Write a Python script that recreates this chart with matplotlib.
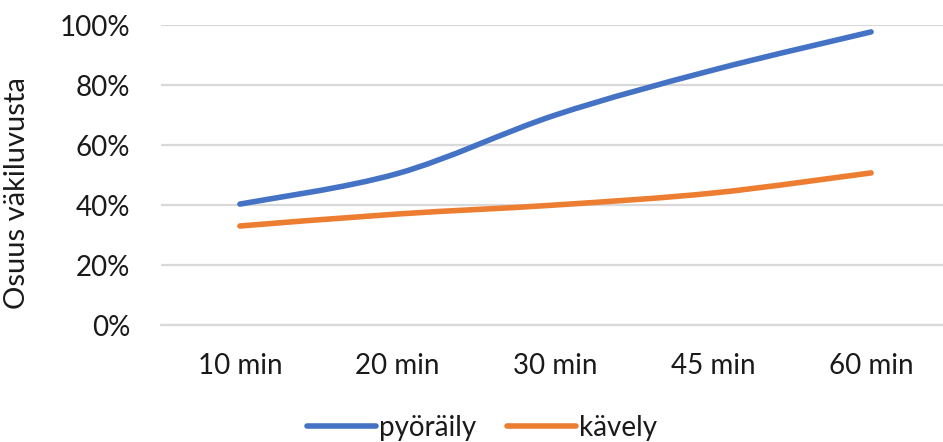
import matplotlib.pyplot as plt
import numpy as np
from matplotlib.path import Path
from matplotlib.patches import PathPatch
from matplotlib.lines import Line2D

plt.rcParams['font.family'] = ['Lato', 'DejaVu Sans']

# data
categories = ['10 min', '20 min', '30 min', '45 min', '60 min']
pyoraily = [0.403, 0.505, 0.70, 0.85, 0.977]
kavely = [0.33, 0.37, 0.40, 0.44, 0.507]
series_names = ['pyöräily', 'kävely']
colors = ['#4472C4', '#ED7D31']


def smooth_path(xs, ys, t=1 / 6):
    # excel-like smoothed line, bezier segments through the points
    xs = np.asarray(xs, float)
    ys = np.asarray(ys, float)
    n = len(xs)
    verts = [(xs[0], ys[0])]
    codes = [Path.MOVETO]
    for i in range(n - 1):
        p0 = (xs[max(i - 1, 0)], ys[max(i - 1, 0)])
        p1 = (xs[i], ys[i])
        p2 = (xs[i + 1], ys[i + 1])
        p3 = (xs[min(i + 2, n - 1)], ys[min(i + 2, n - 1)])
        c1 = (p1[0] + (p2[0] - p0[0]) * t, p1[1] + (p2[1] - p0[1]) * t)
        c2 = (p2[0] - (p3[0] - p1[0]) * t, p2[1] - (p3[1] - p1[1]) * t)
        verts += [c1, c2, p2]
        codes += [Path.CURVE4] * 3
    return Path(verts, codes)


fig = plt.figure(figsize=(9.43, 4.42), dpi=100)
ax = fig.add_axes([161 / 943, 117 / 442, 789 / 943, 300 / 442])

x = np.arange(len(categories))
for vals, c in zip([pyoraily, kavely], colors):
    ax.add_patch(PathPatch(smooth_path(x, vals), facecolor='none', edgecolor=c,
                           lw=4.0, capstyle='round', joinstyle='round', zorder=3))

fs = 20
ax.set_xlim(-0.5, len(categories) - 0.5)
ax.set_ylim(0, 1.0)
ax.set_yticks(np.arange(0, 1.01, 0.2))
ax.set_yticklabels([f'{int(round(v * 100))}%' for v in np.arange(0, 1.01, 0.2)])
ax.set_xticks(x)
ax.set_xticklabels(categories)
ax.tick_params(axis='both', length=0, labelsize=fs, colors='#1a1a1a')
ax.tick_params(axis='y', pad=22)
ax.tick_params(axis='x', pad=20)
ax.grid(axis='y', color='#d9d9d9', lw=1.6)
ax.set_axisbelow(True)
for s in ['top', 'right', 'left']:
    ax.spines[s].set_visible(False)
ax.spines['bottom'].set_color('#d9d9d9')
ax.spines['bottom'].set_linewidth(1.6)

ax.set_ylabel('Osuus väkiluvusta', fontsize=21, color='#1a1a1a')
ax.yaxis.set_label_coords(-0.166, 0.44)

handles = [Line2D([], [], color=c, lw=4.0, solid_capstyle='round') for c in colors]
fig.legend(handles, series_names, loc='center', bbox_to_anchor=(482 / 943, 1 - 428 / 442),
           ncol=2, frameon=False, fontsize=fs, handlelength=2.5, handletextpad=0.1,
           columnspacing=1.1, labelcolor='#1a1a1a', borderpad=0)

fig.savefig('out.png', dpi=100)
